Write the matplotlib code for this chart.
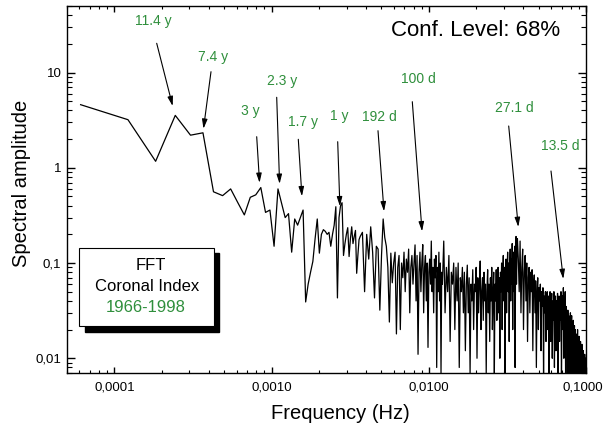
import matplotlib
matplotlib.use('Agg')
import matplotlib.pyplot as plt
import matplotlib.patches as patches
from matplotlib.ticker import FixedLocator, FixedFormatter, LogLocator, NullFormatter
from matplotlib.transforms import ScaledTranslation
import numpy as np

plt.rcParams['font.family'] = ['Liberation Sans', 'DejaVu Sans']

W, H = 604, 428
GREEN = '#2f8f3c'
N_FFT = 16384  # zero padded series length (days)

# spectral amplitude
# bins 1..60, every bin
amp_low = [4.6, 3.2, 1.17, 3.55, 2.2, 2.33, 0.56, 0.51, 0.60, 0.43,
           0.32, 0.49, 0.52, 0.62, 0.34, 0.36, 0.15, 0.60, 0.42, 0.30,
           0.33, 0.13, 0.29, 0.25, 0.30, 0.36, 0.039, 0.06, 0.08, 0.104,
           0.18, 0.29, 0.127, 0.20, 0.224, 0.215, 0.20, 0.21, 0.15, 0.20,
           0.25, 0.39, 0.043, 0.30, 0.40, 0.43, 0.12, 0.16, 0.20, 0.235,
           0.117, 0.18, 0.24, 0.16, 0.19, 0.22, 0.078, 0.12, 0.176, 0.19]
# bins 62..200, every 2nd bin
amp_mid = [0.21, 0.05, 0.20, 0.11, 0.24, 0.13, 0.043, 0.15, 0.14, 0.032,
           0.12, 0.29, 0.185, 0.15, 0.09, 0.024, 0.127, 0.062, 0.10, 0.13,
           0.018, 0.09, 0.12, 0.02, 0.10, 0.07, 0.13, 0.05, 0.11, 0.08,
           0.14, 0.03, 0.09, 0.12, 0.06, 0.10, 0.155, 0.04, 0.12, 0.011,
           0.08, 0.13, 0.05, 0.10, 0.156, 0.03, 0.09, 0.12, 0.04, 0.10,
           0.013, 0.08, 0.11, 0.06, 0.17, 0.05, 0.09, 0.03, 0.11, 0.07,
           0.12, 0.008, 0.09, 0.05, 0.13, 0.04, 0.10, 0.007, 0.08, 0.06]
# bins 204..600, every 4th bin
amp_high = [0.17, 0.03, 0.09, 0.05, 0.12, 0.015, 0.08, 0.06, 0.10, 0.02,
            0.09, 0.04, 0.10, 0.008, 0.07, 0.05, 0.09, 0.03, 0.08, 0.012,
            0.06, 0.095, 0.03, 0.07, 0.007, 0.06, 0.04, 0.085, 0.02, 0.06,
            0.05, 0.09, 0.01, 0.07, 0.03, 0.06, 0.105, 0.02, 0.05, 0.07,
            0.025, 0.08, 0.04, 0.06, 0.007, 0.05, 0.085, 0.03, 0.06, 0.015,
            0.07, 0.04, 0.09, 0.02, 0.05, 0.08, 0.007, 0.06, 0.04, 0.085,
            0.025, 0.06, 0.09, 0.03, 0.07, 0.01, 0.08, 0.05, 0.10, 0.02,
            0.08, 0.12, 0.04, 0.09, 0.007, 0.07, 0.11, 0.03, 0.08, 0.13,
            0.05, 0.10, 0.015, 0.09, 0.14, 0.04, 0.11, 0.06, 0.16, 0.02,
            0.09, 0.13, 0.05, 0.15, 0.008, 0.10, 0.19, 0.06, 0.12, 0.18]
# bins 608..1640, every 8th bin
amp_top = [0.11, 0.05, 0.17, 0.03, 0.09, 0.14, 0.02, 0.08, 0.12, 0.04,
           0.10, 0.015, 0.07, 0.09, 0.03, 0.08, 0.05, 0.085, 0.012, 0.06,
           0.075, 0.03, 0.065, 0.008, 0.05, 0.07, 0.02, 0.055, 0.04, 0.06,
           0.012, 0.05, 0.035, 0.055, 0.007, 0.045, 0.03, 0.05, 0.015, 0.04,
           0.05, 0.02, 0.045, 0.006, 0.04, 0.05, 0.015, 0.035, 0.048, 0.01,
           0.04, 0.025, 0.05, 0.008, 0.035, 0.045, 0.012, 0.04, 0.02, 0.048,
           0.006, 0.035, 0.045, 0.015, 0.04, 0.025, 0.05, 0.005, 0.03, 0.045,
           0.02, 0.055, 0.01, 0.04, 0.03, 0.05, 0.005, 0.035, 0.02, 0.03,
           0.006, 0.032, 0.015, 0.028, 0.004, 0.025, 0.012, 0.03, 0.005, 0.022,
           0.028, 0.006, 0.02, 0.01, 0.025, 0.004, 0.018, 0.022, 0.005, 0.02,
           0.008, 0.018, 0.003, 0.016, 0.012, 0.02, 0.004, 0.014, 0.006, 0.017,
           0.004, 0.013, 0.009, 0.015, 0.003, 0.012, 0.007, 0.014, 0.004, 0.01,
           0.006, 0.012, 0.003, 0.009, 0.005, 0.011, 0.004, 0.008, 0.006, 0.01]

bins = np.concatenate([np.arange(1, 61), np.arange(62, 201, 2),
                       np.arange(204, 601, 4), np.arange(608, 1641, 8)])
freq = bins / N_FFT
amp = np.array(amp_low + amp_mid + amp_high + amp_top)

# marked periods
peak_labels = ['11.4 y', '7.4 y', '3 y', '2.3 y', '1.7 y', '1 y',
               '192 d', '100 d', '27.1 d', '13.5 d']
peak_freq = [2.35e-4, 3.69e-4, 8.39e-4, 1.125e-3, 1.56e-3, 2.72e-3,
             5.19e-3, 9.06e-3, 0.0371, 0.0717]
peak_amp = [4.45, 2.57, 0.695, 0.678, 0.502, 0.394, 0.349, 0.215, 0.239, 0.068]

# arrow tails and label centres, figure pixels from the top left
tail_px = [(156.7, 43.3), (211, 71.7), (256.7, 136.7), (276.7, 97.3),
           (298.3, 139.3), (337.7, 141.7), (378, 130.7), (412.3, 101.7),
           (508.7, 126), (551, 171)]
label_px = [(153, 21), (213.3, 56.7), (250, 111), (281.7, 81),
            (302.7, 121.7), (339.3, 115.7), (379.3, 116.7), (418.3, 79),
            (514, 107.7), (560, 145.7)]

x_ticks = [1e-4, 1e-3, 1e-2, 1e-1]
x_ticklabels = ['0,0001', '0,0010', '0,0100', '0,1000']
y_ticks = [0.01, 0.1, 1, 10]
y_ticklabels = ['0,01', '0,1', '1', '10']

fig = plt.figure(figsize=(W / 100, H / 100), dpi=100)
ax = fig.add_axes([67 / W, 1 - 373 / H, (586 - 67) / W, (373 - 6) / H])

ax.plot(freq, amp, color='black', lw=0.9)
ax.set_xscale('log')
ax.set_yscale('log')
ax.set_xlim(5e-5, 0.1)
ax.set_ylim(0.007, 50)

ax.xaxis.set_major_locator(FixedLocator(x_ticks))
ax.xaxis.set_major_formatter(FixedFormatter(x_ticklabels))
ax.yaxis.set_major_locator(FixedLocator(y_ticks))
ax.yaxis.set_major_formatter(FixedFormatter(y_ticklabels))
for axis in (ax.xaxis, ax.yaxis):
    axis.set_minor_locator(LogLocator(base=10, subs=np.arange(2, 10), numticks=20))
    axis.set_minor_formatter(NullFormatter())

ax.tick_params(which='both', direction='in', top=True, right=True, labelsize=9.5)
ax.tick_params(axis='x', which='major', length=4.5, width=1, pad=6)
ax.tick_params(axis='x', which='minor', length=2.5, width=0.8)
ax.tick_params(axis='y', which='major', length=6, width=1, pad=4)
ax.tick_params(axis='y', which='minor', length=3.5, width=0.8)
for sp in ax.spines.values():
    sp.set_linewidth(1.0)

# keep the last x label inside the canvas
last = ax.xaxis.get_major_ticks()[-1].label1
last.set_transform(last.get_transform() + ScaledTranslation(-3 / 100, 0, fig.dpi_scale_trans))

fig.text(340 / W, 1 - 413.6 / H, 'Frequency (Hz)', ha='center', va='center', fontsize=14.5)
fig.text(22 / W, 1 - 183 / H, 'Spectral amplitude', ha='center', va='center',
         rotation=90, fontsize=14.5)
fig.text(476 / W, 1 - 30.7 / H, 'Conf. Level: 68%', ha='center', va='center', fontsize=16)

for lab, f, a, (tx, ty), (lx, ly) in zip(peak_labels, peak_freq, peak_amp, tail_px, label_px):
    ax.annotate('', xy=(f, a), xycoords='data', xytext=(tx, H - ty),
                textcoords='figure pixels',
                arrowprops=dict(arrowstyle='-|>,head_length=0.7,head_width=0.2',
                                color='black', lw=0.8, mutation_scale=8,
                                shrinkA=0, shrinkB=0))
    fig.text(lx / W, 1 - ly / H, lab, color=GREEN, ha='center', va='center', fontsize=10)

# boxed legend with drop shadow
bx0, by0, bx1, by1 = 79.3, 247.7, 214, 326
shadow = patches.Rectangle(((bx0 + 5.3) / W, 1 - (by1 + 5.7) / H), (bx1 - bx0) / W,
                           (by1 - by0) / H, transform=fig.transFigure,
                           facecolor='black', edgecolor='black', zorder=5)
box = patches.Rectangle((bx0 / W, 1 - by1 / H), (bx1 - bx0) / W, (by1 - by0) / H,
                        transform=fig.transFigure, facecolor='white',
                        edgecolor='black', lw=0.8, zorder=6)
fig.patches.extend([shadow, box])
fig.text(150.7 / W, 1 - 266 / H, 'FFT', ha='center', va='center', fontsize=12, zorder=7)
fig.text(147.3 / W, 1 - 286.7 / H, 'Coronal Index', ha='center', va='center', fontsize=12, zorder=7)
fig.text(146 / W, 1 - 307.7 / H, '1966-1998', ha='center', va='center', fontsize=12,
         color=GREEN, zorder=7)

fig.savefig('out.png', dpi=100)
plt.close(fig)
